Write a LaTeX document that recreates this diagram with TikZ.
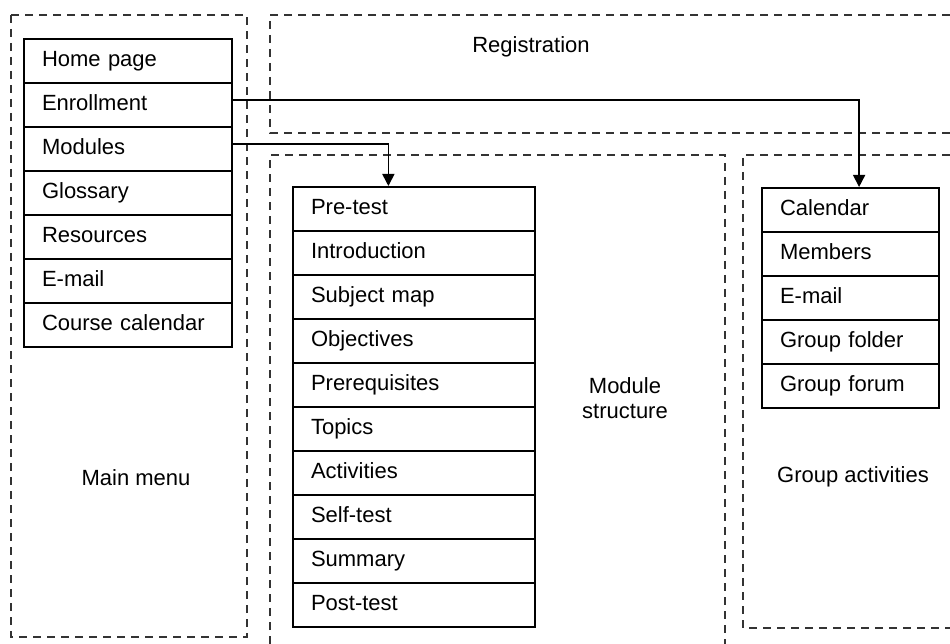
\documentclass[tikz,border=0pt]{standalone}
\usepackage{fontspec}
\setmainfont{Liberation Sans}
\usetikzlibrary{calc,arrows.meta}
\tikzset{
  cell/.style={draw=black, line width=2pt, rectangle, anchor=north west,
    minimum height=44pt, inner xsep=18pt, inner ysep=0pt, align=left,
    text height=15.5pt, text depth=4.5pt,
    font=\fontsize{22}{26}\selectfont},
  region/.style={draw=black!80, line width=2pt, dash pattern=on 8pt off 6pt},
  link/.style={draw=black, line width=1.6pt, -{Triangle[length=12pt,width=12pt]}},
  lbl/.style={font=\fontsize{22}{25}\selectfont, align=center}
}
\begin{document}
\begin{tikzpicture}[x=1pt,y=-1pt]
\useasboundingbox (0,0) rectangle (950,644);
% dashed regions
\draw[region] (11,15) rectangle (247,637);
\draw[region] (950,15) -- (270,15) -- (270,133) -- (950,133);
\draw[region] (270,644) -- (270,155) -- (725,155) -- (725,644);
\draw[region] (950,155) -- (743,155) -- (743,628) -- (950,628);
% region labels
\node[lbl] (regl) at (531,47) {Registration};
\node[lbl] (mainl) at (136,478) {Main menu};
\node[lbl] (modl) at (625,398) {Module\\structure};
\node[lbl] (grpl) at (853,477) {Group activities};
% main menu
\foreach \t [count=\i] in {Home page,Enrollment,Modules,Glossary,Resources,E-mail,Course calendar}
  \node[cell, text width=172pt] (m\i) at (23,{38+44*(\i-1)}) {\t};
% module structure
\foreach \t [count=\i] in {Pre-test,Introduction,Subject map,Objectives,Prerequisites,Topics,Activities,Self-test,Summary,Post-test}
  \node[cell, text width=206pt] (s\i) at (292,{186+44*(\i-1)}) {\t};
% group activities
\foreach \t [count=\i] in {Calendar,Members,E-mail,Group folder,Group forum}
  \node[cell, text width=141pt] (g\i) at (761,{187+44*(\i-1)}) {\t};
% connectors
\coordinate (gt) at ($(g1.north west)!0.548!(g1.north east)$);
\coordinate (st) at ($(s1.north west)!0.395!(s1.north east)$);
\draw[link] ($(m2.east)+(0,-5)$) -| (gt);
\draw[link] ($(m3.east)+(0,-5)$) -| (st);
\end{tikzpicture}
\end{document}
